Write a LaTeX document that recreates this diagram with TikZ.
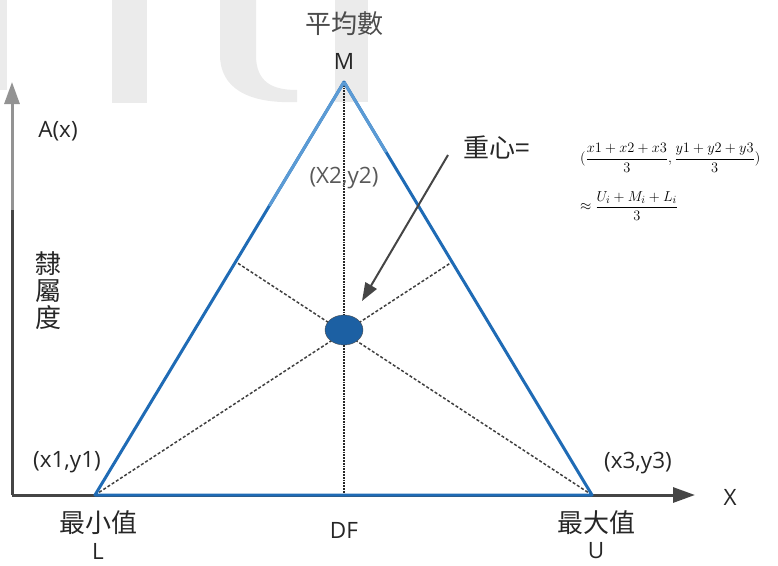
\documentclass[tikz,border=0pt]{standalone}
\usepackage{amsmath}
\usepackage{fontspec}
\setmainfont{Open Sans}
\newfontfamily\cjk{Noto Sans CJK TC}
\usepackage{tikz}
\usetikzlibrary{arrows.meta,positioning,shapes.geometric,calc}
\definecolor{triblue}{HTML}{1F6BB5}
\definecolor{lightblue}{HTML}{5B9BD5}
\definecolor{axisgray}{HTML}{454545}
\definecolor{wmgray}{HTML}{EBEBEB}

\begin{document}
\begin{tikzpicture}[x=1pt, y=-1pt, >=Latex, font=\fontsize{22.5}{26}\selectfont,
    text=black!85,
    cjktext/.style={font=\cjk\fontsize{26}{27}\selectfont},
    formula/.style={anchor=west, inner sep=0pt, font=\fontsize{15.5}{18}\selectfont, text=black},
    median/.style={densely dashed, line width=1.5pt, black!75},
    axisline/.style={axisgray, line width=3pt}]
  \useasboundingbox (0,0) rectangle (778,565);
  % watermark in the background
  \fill[wmgray] (0,0) rectangle (7,90);
  \fill[wmgray] (112,0) rectangle (147,103);
  \fill[wmgray] (220,0) -- (256,0) -- (256,55) .. controls (256,82) and (272,90) .. (297,90)
      -- (297,102) .. controls (248,104) and (220,88) .. (220,55) -- cycle;
  \fill[wmgray] (335,0) rectangle (368,102);

  \coordinate (O) at (12,495);
  \coordinate (L) at (95,495);
  \coordinate (M) at (344,82);
  \coordinate (U) at (592,495);
  \coordinate (D) at (344,495);
  \coordinate (P) at (452,262);
  \coordinate (Q) at (236,262);
  \coordinate (xend) at (695,495);
  \coordinate (ymid) at (12,210);
  \coordinate (yend) at (12,82);

  \draw[axisline, -{Triangle[length=22pt,width=15pt]}] (O) -- (xend);
  \draw[axisline] (O) -- (ymid);
  \draw[axisline, gray!85, -{Triangle[length=22pt,width=15pt]}] (ymid) -- (yend);

  \draw[densely dotted, line width=1.8pt, black!85] (M) -- (D);
  \draw[median] (L) -- (P);
  \draw[median] (U) -- (Q);

  \draw[triblue, line width=3pt, line join=round] (L) -- (U) -- (M) -- cycle;
  \draw[lightblue, line width=3pt] (M) -- ($(M)!0.3!(L)$);
  \draw[lightblue, line width=3pt] (M) -- ($(M)!0.17!(U)$);

  \node[ellipse, draw=black!70, fill=triblue!90!black, minimum width=38pt,
        minimum height=30pt, inner sep=0pt] (G) at (344,330) {};

  \node[cjktext, text=black!70] (avg) at (344,24) {平均數};
  \node (mlab) at (344,61) {M};
  \node (ax) at (58,131) {A(x)};
  \node[cjktext, align=center] (memb) at (48,291) {隸\\屬\\度};
  \node[text=black!65] (x2) at (344,178) {(X2,y2)};
  \node[cjktext] (cen) at (497,147) {重心=};
  \node (p1) at (67,462) {(x1,y1)};
  \node (p3) at (638,463) {(x3,y3)};
  \node[cjktext] (minv) at (98,523) {最小值};
  \node (llab) at (98,551) {L};
  \node (df) at (344,530) {DF};
  \node[cjktext] (maxv) at (596,523) {最大值};
  \node (ulab) at (596,551) {U};
  \node (xlab) at (730,497) {X};

  \node[formula] (f1) at (580,158)
      {$(\dfrac{x1+x2+x3}{3},\dfrac{y1+y2+y3}{3})$};
  \node[formula] (f2) at (580,206)
      {$\approx\dfrac{U_i+M_i+L_i}{3}$};

  \coordinate (arrtail) at (448,155);
  \coordinate (arrtip) at (362,301);
  \draw[axisgray, line width=2pt, -{Triangle[length=18pt,width=13pt]}] (arrtail) -- (arrtip);
\end{tikzpicture}
\end{document}
